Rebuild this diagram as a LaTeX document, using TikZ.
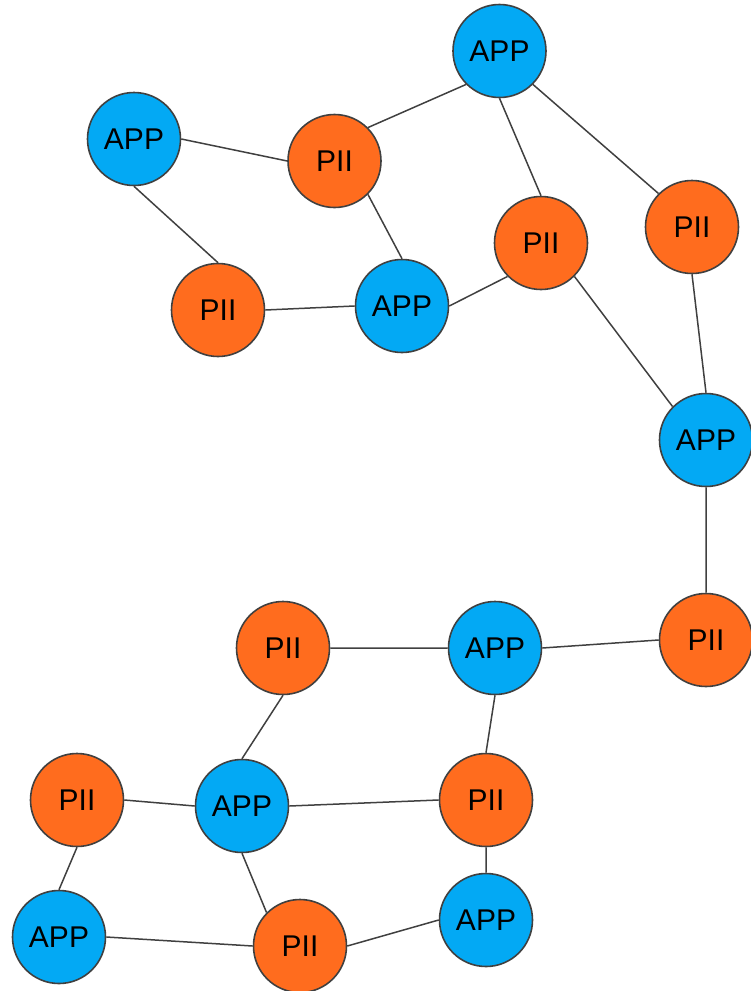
\documentclass[tikz,border=0pt]{standalone}
\usepackage{fontspec}
\setmainfont{Liberation Sans}
\definecolor{appblue}{RGB}{3,169,244}
\definecolor{piiorange}{RGB}{255,108,30}
\definecolor{edgegray}{RGB}{64,64,64}
\begin{document}
\begin{tikzpicture}[x=1pt,y=-1pt,
  vertex/.style={circle,draw=edgegray,line width=1.6pt,minimum size=93pt,inner sep=0pt,
    font=\fontsize{30}{36}\selectfont},
  app/.style={vertex,fill=appblue},
  pii/.style={vertex,fill=piiorange},
  link/.style={draw=edgegray,line width=1.5pt}]
\useasboundingbox (0,0) rectangle (751,991);
\node[app] (a1) at (499.5,51) {APP};
\node[app] (a2) at (134,139) {APP};
\node[pii] (p3) at (334.5,161) {PII};
\node[pii] (p4) at (541,243) {PII};
\node[pii] (p5) at (692,227) {PII};
\node[pii] (p6) at (218,310) {PII};
\node[app] (a7) at (402,306) {APP};
\node[app] (a8) at (706,440) {APP};
\node[pii] (p9) at (706,640) {PII};
\node[app] (a10) at (495,648) {APP};
\node[pii] (p11) at (283,648) {PII};
\node[pii] (p12) at (77,800) {PII};
\node[app] (a13) at (242,806) {APP};
\node[pii] (p14) at (486,800) {PII};
\node[app] (a15) at (59,937) {APP};
\node[pii] (p16) at (300,946) {PII};
\node[app] (a17) at (486,920) {APP};
% connectors meet the circles at compass anchors
\path[link]
  (a1.south west) -- (p3.north east)
  (a1.south) -- (p4.north)
  (a1.south east) -- (p5.north west)
  (a2.east) -- (p3.west)
  (a2.south) -- (p6.north)
  (p3.south east) -- (a7.north)
  (p6.east) -- (a7.west)
  (a7.east) -- (p4.south west)
  (p4.south east) -- (a8.north west)
  (p5.south) -- (a8.north)
  (a8.south) -- (p9.north)
  (p9.west) -- (a10.east)
  (a10.west) -- (p11.east)
  (a10.south) -- (p14.north)
  (p11.south) -- (a13.north)
  (p12.east) -- (a13.west)
  (a13.east) -- (p14.west)
  (p12.south) -- (a15.north)
  (a13.south) -- (p16.north west)
  (a15.east) -- (p16.west)
  (p16.east) -- (a17.west)
  (p14.south) -- (a17.north);
\end{tikzpicture}
\end{document}
